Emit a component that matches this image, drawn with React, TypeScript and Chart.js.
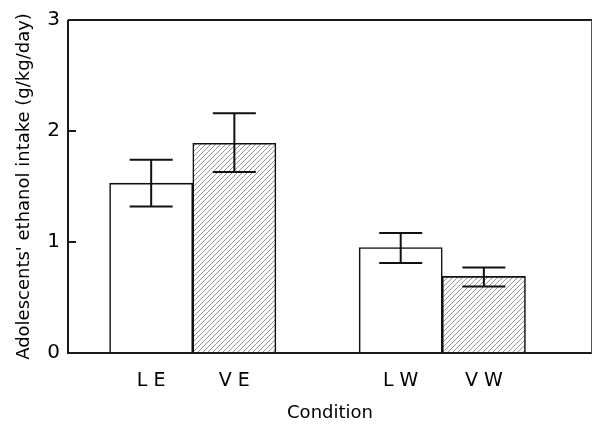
import React, { useEffect, useRef } from "react";
import { Chart, registerables } from "chart.js";

Chart.register(...registerables);

const categories = ["L E", "V E", "L W", "V W"];
const positions = [1, 2, 4, 5];
const means = [1.53, 1.89, 0.95, 0.69];
const errUpper = [1.74, 2.16, 1.08, 0.77];
const errLower = [1.32, 1.63, 0.81, 0.6];
const hatched = [false, true, false, true];
const yTickValues = [0, 1, 2, 3];

const FONT = "'DejaVu Sans', Verdana, sans-serif";

function makeHatch(): CanvasPattern | string {
  const c = document.createElement("canvas");
  c.width = 5;
  c.height = 5;
  const g = c.getContext("2d");
  if (!g) return "#ccc";
  g.fillStyle = "#ffffff";
  g.fillRect(0, 0, 5, 5);
  g.strokeStyle = "#7a7a7a";
  g.lineWidth = 0.8;
  g.beginPath();
  g.moveTo(-1, 1);
  g.lineTo(1, -1);
  g.moveTo(0, 5);
  g.lineTo(5, 0);
  g.moveTo(4, 6);
  g.lineTo(6, 4);
  g.stroke();
  const p = g.createPattern(c, "repeat");
  return p || "#ccc";
}

const decorPlugin = {
  id: "decor",
  afterDatasetsDraw(chart: any) {
    const ctx = chart.ctx;
    const xs = chart.scales.x;
    const ys = chart.scales.y;
    ctx.save();
    ctx.strokeStyle = "#111";
    ctx.lineWidth = 2;
    const half = 21.5;
    positions.forEach((p, i) => {
      const x = xs.getPixelForValue(p);
      const yt = ys.getPixelForValue(errUpper[i]);
      const yb = ys.getPixelForValue(errLower[i]);
      ctx.beginPath();
      ctx.moveTo(x, yt);
      ctx.lineTo(x, yb);
      ctx.moveTo(x - half, yt);
      ctx.lineTo(x + half, yt);
      ctx.moveTo(x - half, yb);
      ctx.lineTo(x + half, yb);
      ctx.stroke();
    });
    ctx.restore();
  },
  afterDraw(chart: any) {
    const ctx = chart.ctx;
    const a = chart.chartArea;
    const ys = chart.scales.y;
    ctx.save();
    ctx.strokeStyle = "#1a1a1a";
    ctx.lineWidth = 2;
    ctx.beginPath();
    ctx.moveTo(a.left, a.top);
    ctx.lineTo(a.left, a.bottom);
    ctx.lineTo(a.right, a.bottom);
    ctx.moveTo(a.left, a.top);
    ctx.lineTo(a.right, a.top);
    ctx.stroke();
    ctx.strokeStyle = "#555";
    ctx.lineWidth = 1;
    ctx.beginPath();
    ctx.moveTo(a.right - 0.5, a.top);
    ctx.lineTo(a.right - 0.5, a.bottom);
    ctx.stroke();
    ctx.strokeStyle = "#1a1a1a";
    ctx.lineWidth = 2;
    yTickValues.forEach((v) => {
      const y = ys.getPixelForValue(v);
      ctx.beginPath();
      ctx.moveTo(a.left, y);
      ctx.lineTo(a.left + 8, y);
      ctx.stroke();
    });
    ctx.restore();
  },
};

export default function App() {
  const ref = useRef<HTMLCanvasElement | null>(null);

  useEffect(() => {
    if (!ref.current) return;
    const hatch = makeHatch();
    const chart = new Chart(ref.current, {
      type: "bar",
      data: {
        datasets: [
          {
            data: positions.map((p, i) => ({ x: p, y: means[i] })),
            backgroundColor: hatched.map((h) => (h ? hatch : "#ffffff")),
            borderColor: "#111",
            borderWidth: 1.6,
            barPercentage: 1,
            categoryPercentage: 1,
          } as any,
        ],
      },
      options: {
        animation: false,
        responsive: true,
        maintainAspectRatio: false,
        layout: { padding: { top: 19, right: 1, left: 0, bottom: 0 } },
        plugins: {
          legend: { display: false },
          tooltip: { enabled: false },
        },
        scales: {
          x: {
            type: "linear",
            min: 0,
            max: 6.3,
            offset: false,
            grid: { display: false, drawTicks: false },
            border: { display: false },
            afterBuildTicks: (s: any) => {
              s.ticks = positions.map((v) => ({ value: v }));
            },
            afterFit: (s: any) => {
              s.height = 72;
            },
            ticks: {
              autoSkip: false,
              maxRotation: 0,
              padding: 17,
              color: "#000",
              font: { family: FONT, size: 19 },
              callback: (v: any) => categories[positions.indexOf(Number(v))] ?? "",
            },
            title: {
              display: true,
              text: "Condition",
              color: "#000",
              font: { family: FONT, size: 18 },
              padding: { top: 0, bottom: 1 },
            },
          },
          y: {
            min: 0,
            max: 3,
            grid: { display: false, drawTicks: false },
            border: { display: false },
            afterBuildTicks: (s: any) => {
              s.ticks = yTickValues.map((v) => ({ value: v }));
            },
            afterFit: (s: any) => {
              s.width = 68;
            },
            ticks: {
              padding: 8,
              color: "#000",
              font: { family: FONT, size: 20 },
            },
            title: {
              display: true,
              text: "Adolescents' ethanol intake (g/kg/day)",
              color: "#000",
              font: { family: FONT, size: 18 },
              padding: { top: 14, bottom: 0 },
            },
          },
        },
      } as any,
      plugins: [decorPlugin],
    });
    return () => chart.destroy();
  }, []);

  return (
    <div style={{ position: "fixed", left: 0, top: 0, width: 593, height: 425, background: "#fff" }}>
      <canvas ref={ref} />
    </div>
  );
}
